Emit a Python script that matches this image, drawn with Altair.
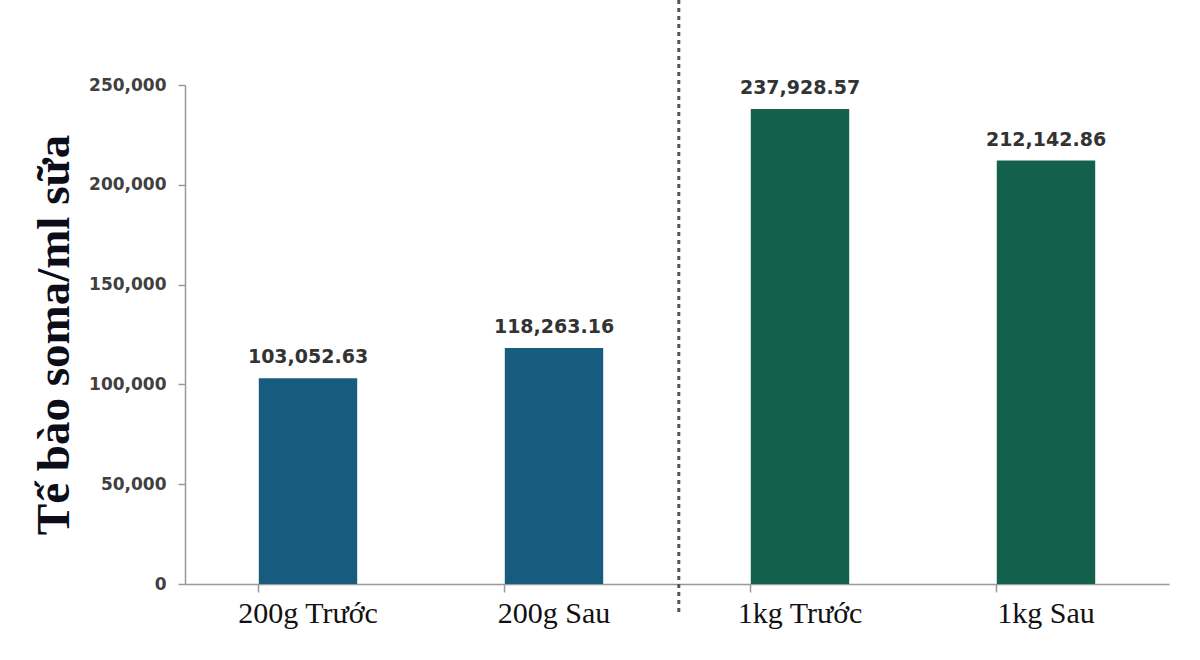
import altair as alt
import pandas as pd

categories = ["200g Trước", "200g Sau", "1kg Trước", "1kg Sau"]
values = [103052.63, 118263.16, 237928.57, 212142.86]
groups = ["200g", "200g", "1kg", "1kg"]
divider_at = ["1kg Trước"]

df = pd.DataFrame({"cat": categories, "val": values, "grp": groups})
div_df = pd.DataFrame({"cat": divider_at})

xscale = alt.Scale(domain=categories, paddingInner=0.6, paddingOuter=0.3)
color = alt.Color("grp:N", scale=alt.Scale(domain=["200g", "1kg"], range=["#175b7f", "#13604c"]), legend=None)

base = alt.Chart(df)

bars = base.mark_bar().encode(
    x=alt.X("cat:N", scale=xscale, sort=categories, title=None,
            axis=alt.Axis(labelAngle=0, labelFont="Liberation Serif", labelFontSize=30,
                          labelColor="#111111", bandPosition=0, tickSize=8, tickColor="#999999",
                          domainColor="#999999", domainWidth=1.5, tickWidth=1.5, labelPadding=6)),
    y=alt.Y("val:Q", scale=alt.Scale(domain=[0, 250000], nice=False),
            title="Tế bào soma/ml sữa",
            axis=alt.Axis(values=[0, 50000, 100000, 150000, 200000, 250000], format=",d",
                          grid=False, labelFont="DejaVu Sans", labelFontWeight="bold",
                          labelFontSize=17, labelColor="#404040", tickSize=7,
                          tickColor="#999999", domainColor="#999999", domainWidth=1.5,
                          tickWidth=1.5, labelPadding=12,
                          titleFont="Liberation Serif", titleFontSize=47, titleFontWeight="bold",
                          titleColor="#0d0d1a", titlePadding=10)),
    color=color,
)

labels = base.mark_text(baseline="bottom", dy=-11, font="DejaVu Sans", fontWeight="bold",
                        fontSize=19, color="#333333").encode(
    x=alt.X("cat:N", scale=xscale, sort=categories),
    y=alt.Y("val:Q"),
    text=alt.Text("val:Q", format=",.2f"),
)

divider = alt.Chart(div_df).mark_rule(strokeDash=[4, 4], strokeWidth=3, color="#555555",
                                      xOffset=-72).encode(
    x=alt.X("cat:N", scale=xscale, sort=categories, bandPosition=0),
    y=alt.value(-85),
    y2=alt.value(531),
)

chart = alt.layer(bars, labels, divider).properties(
    width=984, height=499,
    autosize=alt.AutoSizeParams(type="none"),
    padding={"left": 185, "top": 85, "right": 31, "bottom": 76},
    background="white",
).configure_view(strokeWidth=0, stroke="transparent")

chart.save("out.html", embed_options={"renderer": "svg", "actions": False})
